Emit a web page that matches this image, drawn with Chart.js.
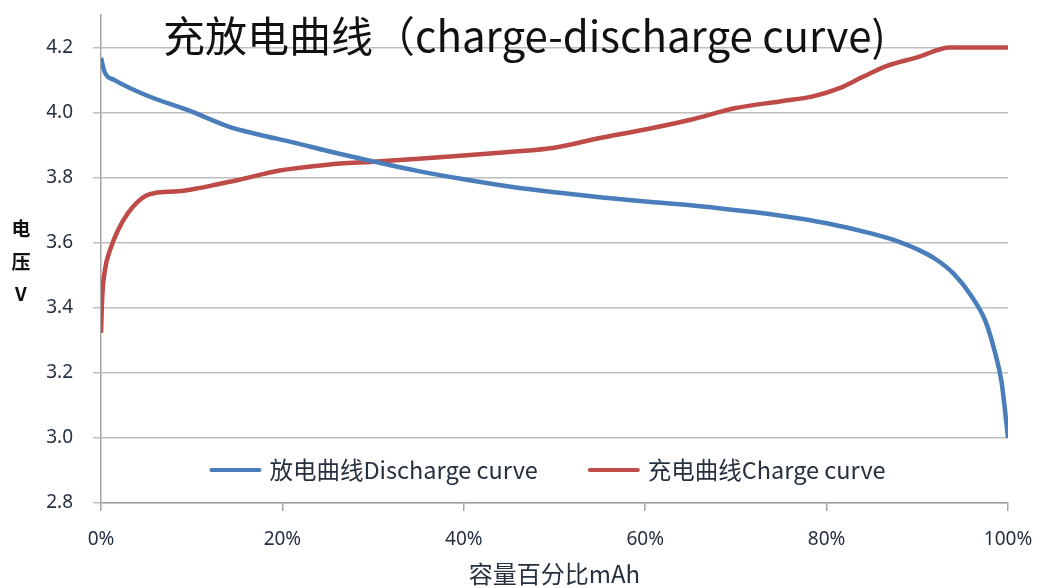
<!DOCTYPE html>
<html>
<head>
<meta charset="utf-8">
<script src="https://cdn.jsdelivr.net/npm/chart.js"></script>
<style>
  html, body { margin: 0; padding: 0; background: #fff; }
  #wrap { position: relative; width: 1040px; height: 588px; }
  #title {
    position: absolute; left: 163px; top: 6px; white-space: nowrap;
    font-family: 'Noto Sans CJK SC', 'Noto Sans', sans-serif; font-size: 42px; color: #111;
    line-height: 56px;
  }
  #ylabel {
    position: absolute; left: 6px; top: 212px; width: 30px; text-align: center;
    font-family: 'Noto Sans CJK SC', 'Noto Sans', sans-serif; font-size: 19px; font-weight: bold;
    line-height: 32.5px; color: #111;
  }
</style>
</head>
<body>
<div id="wrap">
  <canvas id="chart" width="1040" height="588"></canvas>
  <div id="title">充放电曲线（charge-discharge curve)</div>
  <div id="ylabel">电<br>压<br>V</div>
</div>
<script>
// capacity (%) and voltage (V)
const dischargeX = [0, 0.44, 1.5, 4.85, 10, 14, 17, 21.4, 25, 30, 35, 40, 45, 50, 55, 60, 65, 70, 75, 80, 85, 88, 90, 92, 94, 96, 97.5, 98.5, 99.3, 100];
const dischargeV = [4.168, 4.122, 4.10, 4.055, 4.003, 3.958, 3.935, 3.907, 3.882, 3.85, 3.82, 3.795, 3.773, 3.755, 3.74, 3.727, 3.715, 3.70, 3.683, 3.66, 3.628, 3.603, 3.58, 3.55, 3.505, 3.435, 3.36, 3.27, 3.17, 3.0];

const chargeX = [0, 0.14, 0.44, 1, 1.9, 3, 4.1, 5, 5.95, 8.5, 10.4, 12.6, 15, 19.7, 25, 30, 35, 40, 45, 50, 55, 60, 65, 70, 75, 78.5, 81.5, 84, 86.6, 90, 93.6, 100];
const chargeV = [3.323, 3.435, 3.517, 3.578, 3.64, 3.692, 3.727, 3.745, 3.753, 3.758, 3.766, 3.778, 3.792, 3.822, 3.84, 3.849, 3.858, 3.868, 3.879, 3.892, 3.922, 3.948, 3.978, 4.014, 4.035, 4.05, 4.076, 4.11, 4.143, 4.17, 4.2, 4.2];

const seriesLabels = ['放电曲线Discharge curve', '充电曲线Charge curve'];
const yTicks = [2.8, 3.0, 3.2, 3.4, 3.6, 3.8, 4.0, 4.2];
const xTicks = [0, 20, 40, 60, 80, 100];

const BLUE = '#4a7ebb';
const RED = '#be4b48';
const GRID = '#bfbfbf';
const AXIS = '#a6a6a6';
const TEXT = '#26303f';
const FONT = "'Noto Sans', 'Noto Sans CJK SC', sans-serif";

const toPoints = (xs, ys) => xs.map((x, i) => ({ x: x, y: ys[i] }));

// legend drawn inside the plot, near the bottom
const insideLegend = {
    id: 'insideLegend',
    afterDraw(chart) {
        const ctx = chart.ctx;
        const area = chart.chartArea;
        const lineLen = 48, gapText = 10, gapItem = 52;
        ctx.save();
        ctx.font = "23.5px 'Noto Sans CJK SC', 'Noto Sans', sans-serif";
        const items = chart.data.datasets.map(ds => ({
            label: ds.label, color: ds.borderColor, w: ctx.measureText(ds.label).width
        }));
        let total = 0;
        items.forEach((it, i) => { total += lineLen + gapText + it.w + (i ? gapItem : 0); });
        let x = (area.left + area.right) / 2 - total / 2 - 6;
        const y = area.bottom - 33;
        items.forEach((it, i) => {
            if (i) x += gapItem;
            ctx.strokeStyle = it.color;
            ctx.lineWidth = 4;
            ctx.lineCap = 'round';
            ctx.beginPath();
            ctx.moveTo(x, y);
            ctx.lineTo(x + lineLen, y);
            ctx.stroke();
            x += lineLen + gapText;
            ctx.fillStyle = TEXT;
            ctx.textBaseline = 'middle';
            ctx.fillText(it.label, x, y);
            x += it.w;
        });
        ctx.restore();
    }
};

new Chart(document.getElementById('chart'), {
    type: 'line',
    data: {
        datasets: [{
            label: seriesLabels[0],
            data: toPoints(dischargeX, dischargeV),
            borderColor: BLUE,
            borderWidth: 4.5,
            pointRadius: 0,
            cubicInterpolationMode: 'monotone'
        }, {
            label: seriesLabels[1],
            data: toPoints(chargeX, chargeV),
            borderColor: RED,
            borderWidth: 4.5,
            pointRadius: 0,
            cubicInterpolationMode: 'monotone'
        }]
    },
    options: {
        responsive: false,
        animation: false,
        layout: { autoPadding: false, padding: { left: 0, right: 32, top: 15, bottom: 0 } },
        plugins: {
            legend: { display: false },
            title: { display: false },
            tooltip: { enabled: false }
        },
        scales: {
            x: {
                type: 'linear',
                min: 0,
                max: 100,
                afterBuildTicks: s => { s.ticks = xTicks.map(v => ({ value: v })); },
                afterFit: s => { s.height = 85; s.paddingLeft = 0; s.paddingRight = 0; },
                ticks: {
                    callback: v => v + '%',
                    color: TEXT,
                    padding: 17,
                    maxRotation: 0,
                    font: { family: FONT, size: 19 }
                },
                grid: { drawOnChartArea: false, tickLength: 8, color: AXIS, lineWidth: 1.5 },
                border: { color: AXIS, width: 1.5 },
                title: {
                    display: true,
                    text: '容量百分比mAh',
                    color: TEXT,
                    padding: { top: 0, bottom: 0 },
                    font: { family: "'Noto Sans CJK SC', 'Noto Sans', sans-serif", size: 24 }
                }
            },
            y: {
                min: 2.8,
                max: 4.3,
                afterBuildTicks: s => { s.ticks = yTicks.map(v => ({ value: v })); },
                afterFit: s => { s.width = 101; s.paddingTop = 0; s.paddingBottom = 0; },
                ticks: {
                    callback: v => v.toFixed(1),
                    color: TEXT,
                    padding: 20,
                    font: { family: FONT, size: 19 }
                },
                grid: { color: GRID, lineWidth: 1.5, tickLength: 8 },
                border: { color: AXIS, width: 1.5 }
            }
        }
    },
    plugins: [insideLegend]
});
</script>
</body>
</html>
